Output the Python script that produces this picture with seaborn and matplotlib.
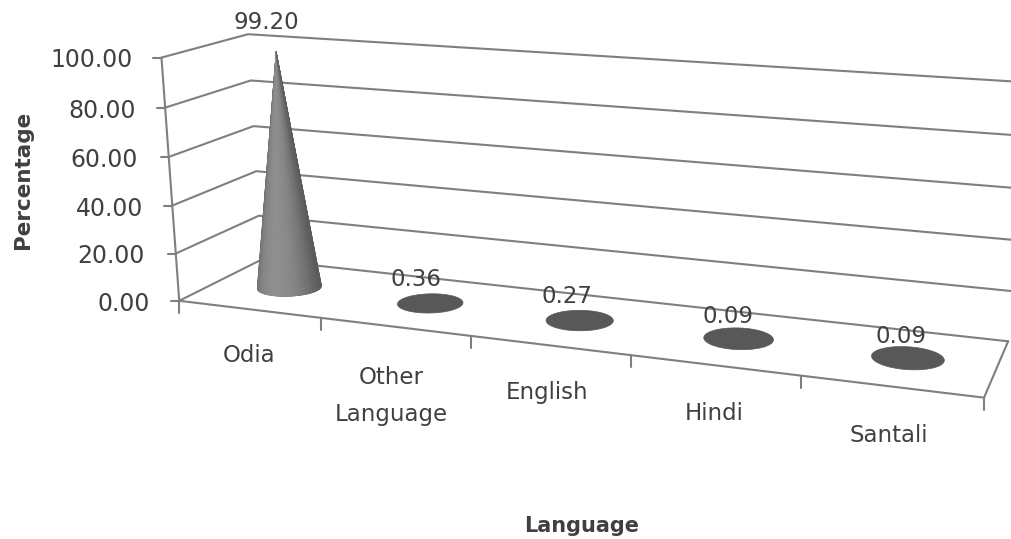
import numpy as np
import pandas as pd
import matplotlib
matplotlib.use("Agg")
import matplotlib.pyplot as plt
import seaborn as sns

languages = ["Odia", "Other\nLanguage", "English", "Hindi", "Santali"]
percentages = [99.20, 0.36, 0.27, 0.09, 0.09]
value_ticks = [0, 20, 40, 60, 80, 100]

LINE = "#7f7f7f"
TEXT = "#404040"

# Camera fit: (category position, depth, value) -> canvas pixel
camera_world = np.array([
    (0, 0, 0), (1, 0, 0), (2, 0, 0), (3, 0, 0), (4, 0, 0), (5, 0, 0),
    (0, 1, 0), (5, 1, 0),
    (0, 0, 20), (0, 0, 40), (0, 0, 60), (0, 0, 80), (0, 0, 100),
    (0, 1, 20), (0, 1, 60), (0, 1, 100),
    (5, 1, 20), (5, 1, 60), (5, 1, 100),
], float)
camera_pixel = np.array([
    (180, 302), (320, 318), (472, 337), (630, 355), (800, 375), (985, 397),
    (262, 258), (1008, 340),
    (175, 254), (172, 205), (168.5, 156), (165.5, 107), (162, 58),
    (259, 216), (253, 127), (248, 34),
    (1011, 293), (1016, 188), (1021, 82),
], float)


def fit_camera(world, pixel):
    rows = []
    for (u, d, v), (px, py) in zip(world, pixel):
        p = [u, d, v / 100, 1]
        rows.append(p + [0, 0, 0, 0] + [-px * c for c in p])
        rows.append([0, 0, 0, 0] + p + [-py * c for c in p])
    return np.linalg.svd(np.array(rows))[2][-1].reshape(3, 4)


CAMERA = fit_camera(camera_world, camera_pixel)


def project(u, d, v):
    u, d, v = np.broadcast_arrays(u, d, v)
    h = CAMERA @ np.vstack([u.ravel(), d.ravel(), v.ravel() / 100, np.ones(u.size)])
    return h[0] / h[2], h[1] / h[2]


sns.set_theme(style="white")
plt.rcParams["font.family"] = ["DejaVu Sans"]

fig = plt.figure(figsize=(10.12, 5.39), dpi=100, facecolor="white")
ax = fig.add_axes([0, 0, 1, 1])

# Walls and floor outline as one long table of polylines
segments = []


def add_segment(name, us, ds, vs):
    xs, ys = project(np.array(us, float), np.array(ds, float), np.array(vs, float))
    segments.append(pd.DataFrame({"name": name, "order": range(len(xs)), "px": xs, "py": ys}))


for tick in value_ticks:
    add_segment(f"level{tick}", [0, 0, 5], [0, 1, 1], [tick, tick, tick])
    tx, ty = project(0.0, 0.0, tick)
    segments.append(pd.DataFrame({"name": f"ytick{tick}", "order": [0, 1],
                                  "px": [tx[0] - 8, tx[0]], "py": [ty[0], ty[0]]}))
add_segment("value axis", [0, 0], [0, 0], [0, 100])
add_segment("front edge", [0, 5], [0, 0], [0, 0])
add_segment("right edge", [5, 5], [0, 1], [0, 0])
for i in range(len(languages) + 1):
    tx, ty = project(float(i), 0.0, 0.0)
    segments.append(pd.DataFrame({"name": f"xtick{i}", "order": [0, 1],
                                  "px": [tx[0], tx[0]], "py": [ty[0], ty[0] + 12]}))
lines = pd.concat(segments, ignore_index=True)
sns.lineplot(data=lines, x="px", y="py", units="name", estimator=None, sort=False,
             color=LINE, linewidth=1.5, ax=ax, zorder=1)

# Cones: shaded strips from the floor circle up to the apex
RADIUS_U, RADIUS_D = 0.205, 0.2
base_angles = np.linspace(0, 2 * np.pi, 121)
strip_angles = np.linspace(0, 2 * np.pi, 49)
label_offsets = [(-10, -29), (-14, -23), (-13, -23), (-11, -22), (-7, -21)]
for i, value in enumerate(percentages):
    cu, cd = i + 0.5, 0.5
    bx, by = project(cu + RADIUS_U * np.cos(base_angles), cd + RADIUS_D * np.sin(base_angles), 0.0)
    ax.fill(bx, by, color="#585858", lw=0.5, zorder=3)
    apex_x, apex_y = project(cu, cd, value)
    if value > 1:
        sx, sy = project(cu + RADIUS_U * np.cos(strip_angles), cd + RADIUS_D * np.sin(strip_angles), 0.0)
        for a in range(48):
            mid = 0.5 * (strip_angles[a] + strip_angles[a + 1])
            shade = max(np.sin(mid - np.pi - 0.1), 0) ** 1.2
            grey = 0.36 + 0.2 * shade
            front = np.sin(mid) < 0
            ax.fill([apex_x[0], sx[a], sx[a + 1]], [apex_y[0], sy[a], sy[a + 1]],
                    color=(grey, grey, grey), lw=0.5, zorder=4 if front else 3)
    dx, dy = label_offsets[i]
    ax.text(apex_x[0] + dx, apex_y[0] + dy, f"{value:.2f}", ha="center", va="center",
            fontsize=16.5, color=TEXT, zorder=6)

# Value axis labels step right along with the slanted axis
label_right = [150, 145, 143, 138, 136, 133]
label_y = [304, 256, 209, 160, 111, 60]
for tick, rx, ly in zip(value_ticks, label_right, label_y):
    ax.text(rx, ly, f"{tick:.2f}", ha="right", va="center", fontsize=17, color=TEXT)

# Category labels sit below the front edge, each a little lower than the last
label_pos = [(249, 356), (391, 396), (547, 392), (714, 413), (889, 435)]
for name, (lx, ly) in zip(languages, label_pos):
    ax.text(lx, ly, name, ha="center", va="center", fontsize=16.5, color=TEXT, linespacing=1.75)

ax.text(23, 180, "Percentage", rotation=90, ha="center", va="center",
        fontsize=15.5, fontweight="bold", color=TEXT)
ax.text(582, 526, "Language", ha="center", va="center",
        fontsize=15, fontweight="bold", color=TEXT)

ax.set_xlim(0, 1012)
ax.set_ylim(539, 0)
ax.axis("off")
if ax.get_legend():
    ax.get_legend().remove()

fig.savefig("out.png", dpi=100, facecolor="white")
